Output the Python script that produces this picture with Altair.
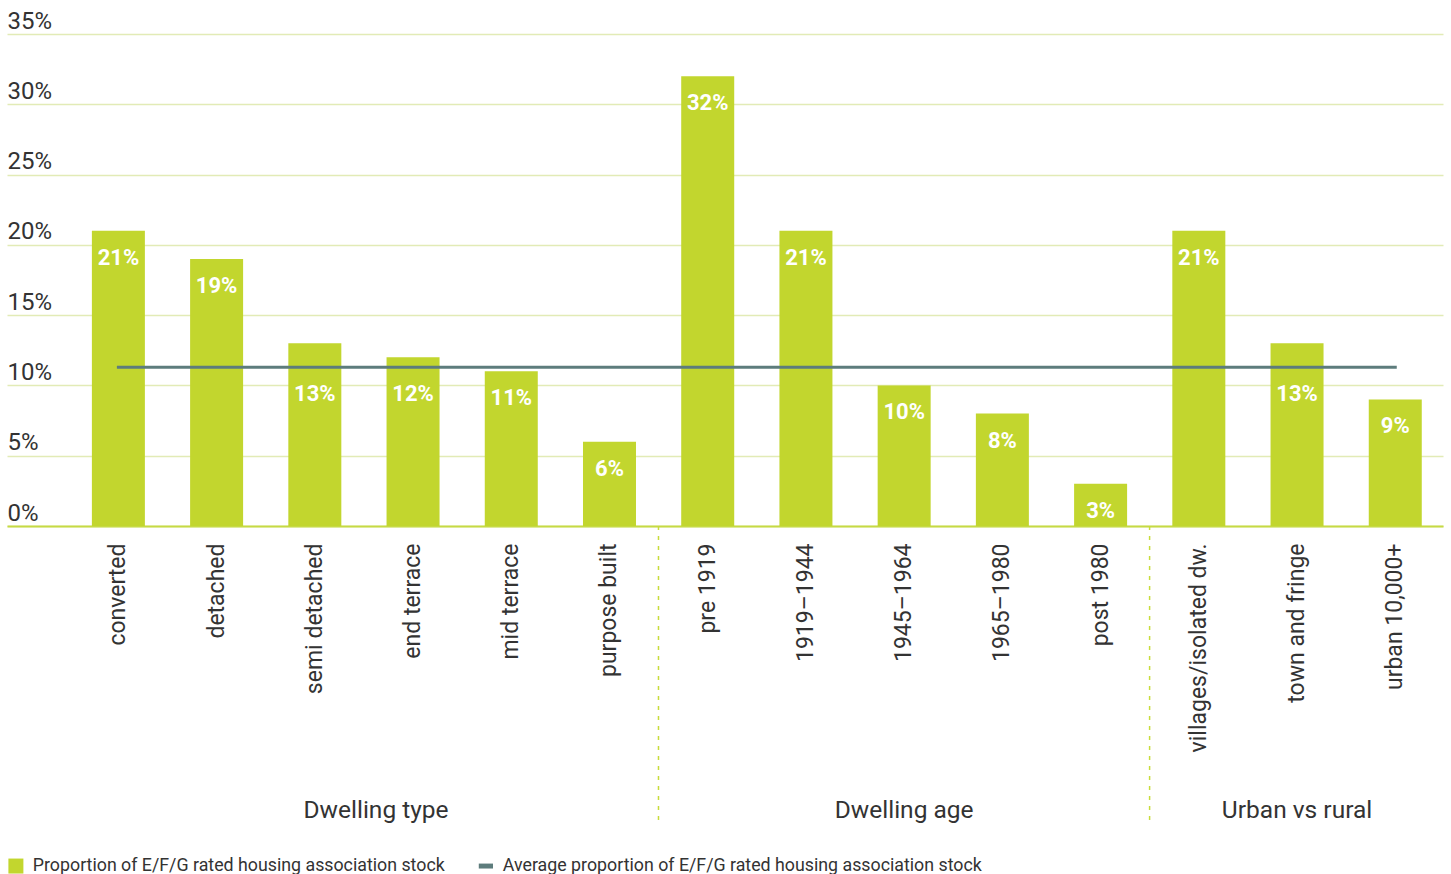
import altair as alt
import pandas as pd

categories = ["converted", "detached", "semi detached", "end terrace", "mid terrace",
              "purpose built", "pre 1919", "1919–1944", "1945–1964", "1965–1980",
              "post 1980", "villages/isolated dw.", "town and fringe", "urban 10,000+"]
values = [21, 19, 13, 12, 11, 6, 32, 21, 10, 8, 3, 21, 13, 9]
average = 11.3
group_names = ["Dwelling type", "Dwelling age", "Urban vs rural"]
group_anchor = ["end terrace", "1945–1964", "town and fringe"]
separators_after = ["purpose built", "post 1980"]
y_ticks = [0, 5, 10, 15, 20, 25, 30, 35]

S1 = "Proportion of E/F/G rated housing association stock"
S2 = "Average proportion of E/F/G rated housing association stock"

BAR = "#c2d62e"
AVG = "#5d7c7c"
GRID = "#e2ebb6"
TEXT = "#333333"

bars_df = pd.DataFrame({"cat": categories, "v": values, "series": S1,
                        "lbl": [f"{v}%" for v in values]})
avg_df = pd.DataFrame({"cat": [categories[0], categories[-1]], "v": [average, average], "series": S2})
sep_df = pd.DataFrame({"cat": separators_after, "v": [0, 0]})
grp_df = pd.DataFrame({"cat": group_anchor, "name": group_names})

xscale = alt.Scale(domain=categories, paddingInner=0.46, paddingOuter=0.54, align=0.8)
yscale = alt.Scale(domain=[0, 35], nice=False)

x_enc = alt.X("cat:N", sort=categories, scale=xscale,
              axis=alt.Axis(title=None, labelAngle=-90, labelPadding=17, labelFontSize=23,
                            labelColor=TEXT, labelLimit=400, ticks=False, tickSize=0,
                            domainColor="#c6da44", domainWidth=2, grid=False))
y_enc = alt.Y("v:Q", scale=yscale,
              axis=alt.Axis(title=None, values=y_ticks, labelExpr="datum.value + '%'",
                            labelAlign="left", labelBaseline="alphabetic", labelPadding=0,
                            labelOffset=-6, labelFontSize=24, labelColor=TEXT, ticks=False,
                            tickSize=0, domain=False, gridColor=GRID, gridWidth=1.5))

shape_expr = ("datum.value === '" + S2 +
              "' ? 'M-0.95,-0.33L0.95,-0.33L0.95,0.33L-0.95,0.33Z' : 'square'")

color = alt.Color("series:N", scale=alt.Scale(domain=[S1, S2], range=[BAR, AVG]),
                  legend=alt.Legend(
                      orient="none", legendX=0, legendY=823, direction="horizontal",
                      title=None, labelFontSize=17.8, labelColor=TEXT, labelLimit=0,
                      symbolSize=225, labelOffset=8, columnPadding=32, padding=0,
                      symbolType={"expr": shape_expr}, symbolStrokeWidth=0,
                      symbolOpacity=1))

bars = alt.Chart(bars_df).mark_bar(size=53).encode(x=x_enc, y=y_enc, color=color)

# value labels sit just under the bar top; those that would sit on the
# average line are moved just below it
labels = alt.Chart(bars_df).transform_calculate(
    pos=f"(datum.v > {average} && datum.v < {average} + 3.5) ? {average} : datum.v"
).mark_text(color="white", fontWeight="bold", fontSize=22,
            dy=27, baseline="middle", align="center").encode(
    x=alt.X("cat:N", sort=categories), y="pos:Q", text="lbl:N")

avg_line = alt.Chart(avg_df).mark_line(strokeWidth=3, strokeCap="square").encode(
    x=alt.X("cat:N", sort=categories), y="v:Q", color="series:N")

seps = alt.Chart(sep_df).mark_rule(color="#c8dc3c", strokeWidth=1.5, strokeDash=[4, 6],
                                   xOffset=49).encode(
    x=alt.X("cat:N", sort=categories), y="v:Q", y2=alt.value(786))

grp1 = alt.Chart(grp_df.iloc[[0]]).mark_text(fontSize=24.5, color=TEXT, baseline="middle",
                                             dx=-37).encode(
    x=alt.X("cat:N", sort=categories), y=alt.value(777), text="name:N")
grp2 = alt.Chart(grp_df.iloc[1:]).mark_text(fontSize=24.5, color=TEXT, baseline="middle").encode(
    x=alt.X("cat:N", sort=categories), y=alt.value(777), text="name:N")

chart = alt.layer(bars, avg_line, labels, seps, grp1, grp2).properties(
    width=1436, height=492,
    autosize=alt.AutoSizeParams(type="none"),
    padding={"left": 7, "top": 34, "right": 8, "bottom": 348},
).configure(font="Roboto").configure_view(stroke=None)

chart.save("out.html", embed_options={"renderer": "svg", "actions": False})
